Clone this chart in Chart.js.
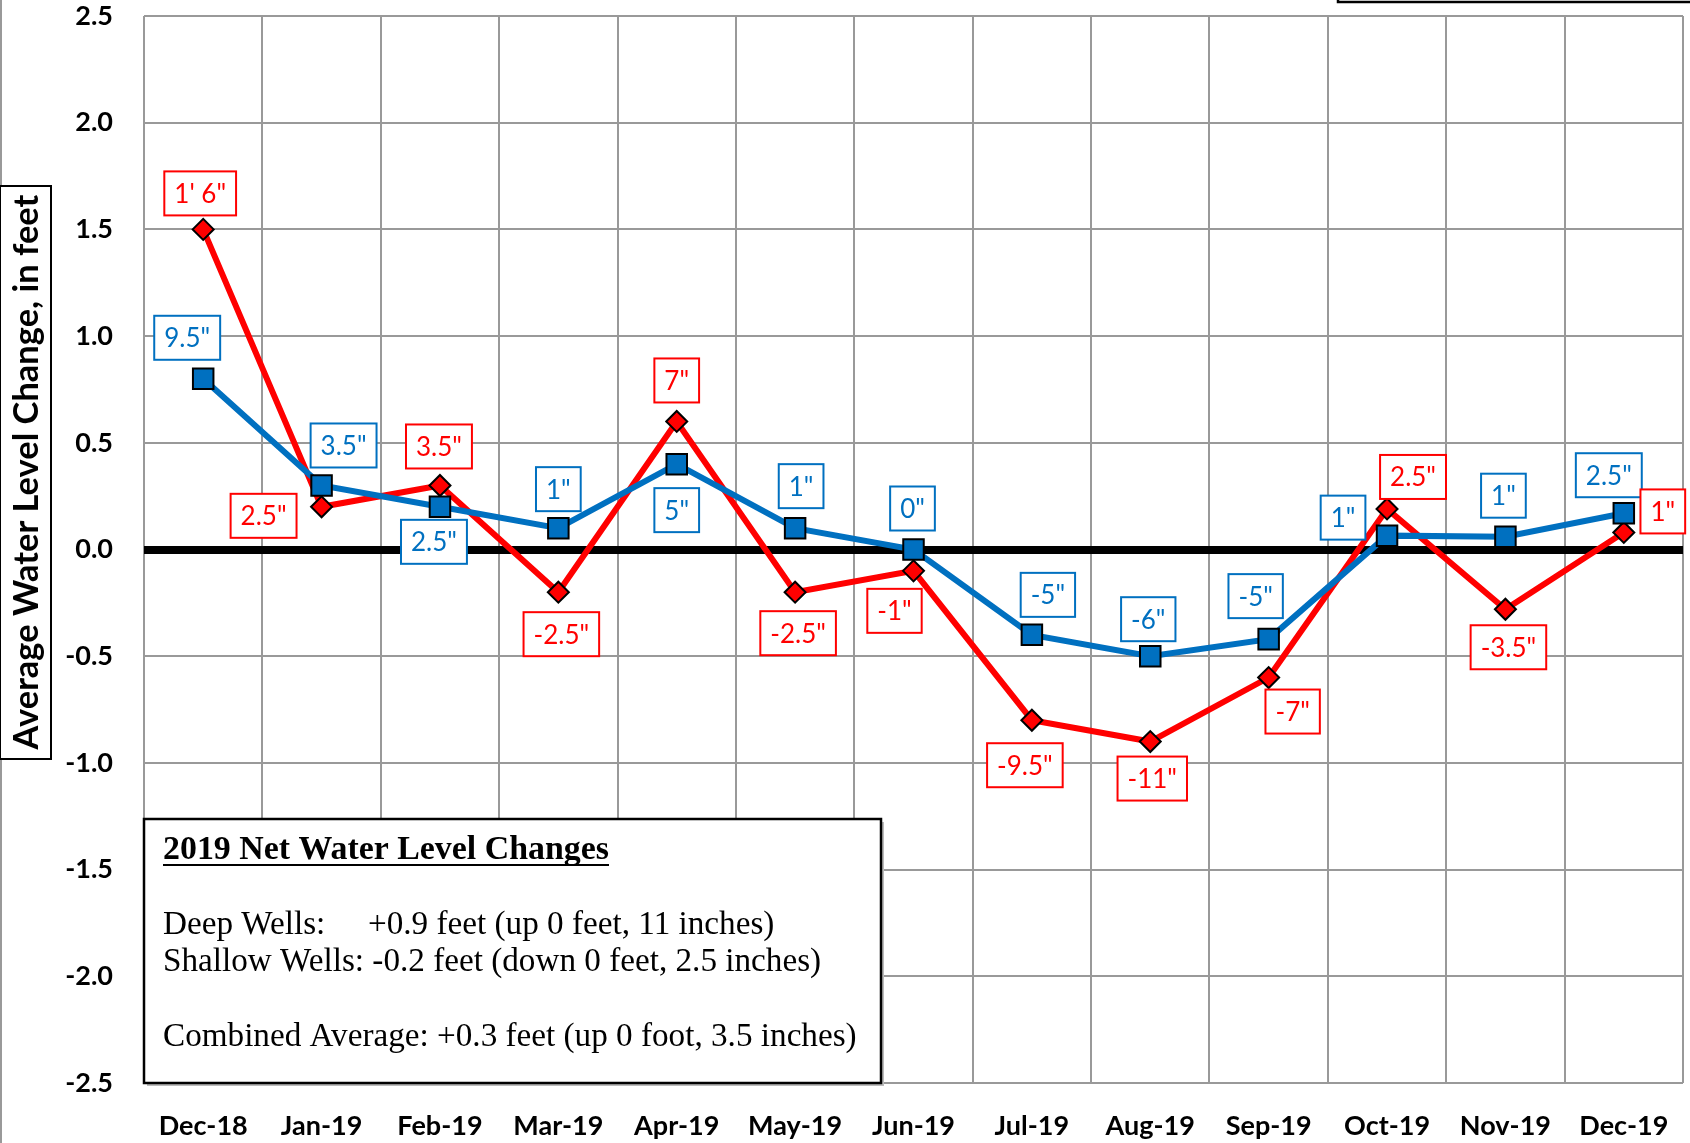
<!DOCTYPE html>
<html>
<head>
<meta charset="utf-8">
<script src="https://cdn.jsdelivr.net/npm/chart.js@4.4.1/dist/chart.umd.min.js"></script>
<style>
  html, body { margin: 0; padding: 0; background: #fff; overflow: hidden; }
  canvas { display: block; }
</style>
</head>
<body>
<canvas id="myChart" width="1690" height="1143"></canvas>
<script>
// data
const months = ['Dec-18', 'Jan-19', 'Feb-19', 'Mar-19', 'Apr-19', 'May-19', 'Jun-19',
                'Jul-19', 'Aug-19', 'Sep-19', 'Oct-19', 'Nov-19', 'Dec-19'];
const deepWells = [0.8, 0.3, 0.2, 0.1, 0.4, 0.1, 0.0, -0.4, -0.5, -0.42, 0.065, 0.06, 0.17];
const shallowWells = [1.5, 0.2, 0.3, -0.2, 0.6, -0.2, -0.1, -0.8, -0.9, -0.6, 0.19, -0.28, 0.08];
const deepLabels = ['9.5"', '3.5"', '2.5"', '1"', '5"', '1"', '0"', '-5"', '-6"', '-5"', '1"', '1"', '2.5"'];
const shallowLabels = ['1\' 6"', '2.5"', '3.5"', '-2.5"', '7"', '-2.5"', '-1"', '-9.5"', '-11"', '-7"', '2.5"', '-3.5"', '1"'];
const yTicks = [-2.5, -2.0, -1.5, -1.0, -0.5, 0.0, 0.5, 1.0, 1.5, 2.0, 2.5];

// label box placement (pixels from the point)
const deepOffsets = [[-16,-41],[22,-40],[-6,35],[0,-39],[0,46],[6,-42],[-1,-41],[16,-40],[-2,-37],[-13,-43],[-44,-18],[-2,-41],[-15,-38]];
const shallowOffsets = [[-3,-36],[-58,9],[-1,-39],[3,42],[0,-41],[3,41],[-19,40],[-7,45],[2,37],[24,34],[26,-32],[3,38],[39,-21]];

const BLUE = '#0070C0';
const RED = '#FF0000';

// draw text at a size that makes it a given width
function fitText(c, txt, x, y, weight, family, width) {
  c.font = weight + ' 30px ' + family;
  const size = 30 * width / c.measureText(txt).width;
  c.font = weight + ' ' + size.toFixed(2) + 'px ' + family;
  c.fillText(txt, x, y);
  return size;
}

const decor = {
  id: 'decor',
  beforeDraw(chart) {
    const c = chart.ctx;
    c.save();
    c.fillStyle = '#fff';
    c.fillRect(0, 0, chart.width, chart.height);
    c.restore();
  },
  afterDatasetsDraw(chart) {
    const c = chart.ctx;
    c.save();
    c.font = '26px Lato';
    c.textAlign = 'center';
    c.textBaseline = 'middle';
    const sets = [[0, deepLabels, deepOffsets, BLUE], [1, shallowLabels, shallowOffsets, RED]];
    sets.forEach(([di, labels, offs, col]) => {
      const meta = chart.getDatasetMeta(di);
      meta.data.forEach((pt, i) => {
        const cx = pt.x + offs[i][0];
        const cy = pt.y + offs[i][1];
        const w = c.measureText(labels[i]).width + 20;
        const h = 44;
        c.fillStyle = '#fff';
        c.fillRect(cx - w / 2, cy - h / 2, w, h);
        c.strokeStyle = col;
        c.lineWidth = 2;
        c.strokeRect(cx - w / 2, cy - h / 2, w, h);
        c.fillStyle = col;
        c.fillText(labels[i], cx, cy + 1);
      });
    });
    c.restore();
  },
  afterDraw(chart) {
    const c = chart.ctx;
    const a = chart.chartArea;
    c.save();

    // outer frame bits
    c.strokeStyle = '#777';
    c.lineWidth = 1.5;
    c.beginPath(); c.moveTo(1, 0); c.lineTo(1, chart.height); c.stroke();
    c.strokeStyle = '#000';
    c.lineWidth = 2.5;
    c.strokeRect(1338, -50, 400, 52);

    // y axis title in a box
    c.fillStyle = '#fff';
    c.fillRect(0, 186, 51, 573);
    c.strokeStyle = '#000';
    c.lineWidth = 2;
    c.strokeRect(0, 186, 51, 573);
    c.translate(26, 472);
    c.rotate(-Math.PI / 2);
    c.fillStyle = '#000';
    c.textAlign = 'center';
    c.textBaseline = 'middle';
    fitText(c, 'Average Water Level Change, in feet', 0, 1, 'bold', 'Lato', 555);
    c.setTransform(1, 0, 0, 1, 0, 0);

    // summary box
    const bx = a.left, by = 819, bw = 737, bh = a.bottom - 819;
    c.fillStyle = '#bbb';
    c.fillRect(bx + 3, by + 3, bw, bh);
    c.fillStyle = '#fff';
    c.fillRect(bx, by, bw, bh);
    c.strokeStyle = '#000';
    c.lineWidth = 2.5;
    c.strokeRect(bx, by, bw, bh);
    c.fillStyle = '#000';
    c.textAlign = 'left';
    c.textBaseline = 'alphabetic';
    const serif = '"Liberation Serif"';
    fitText(c, '2019 Net Water Level Changes', bx + 19, by + 40, 'bold', serif, 446);
    c.fillRect(bx + 19, by + 45, 446, 2);
    const size = fitText(c, 'Combined Average: +0.3 feet (up 0 foot, 3.5 inches)', bx + 19, by + 227, 'normal', serif, 694);
    c.font = size.toFixed(2) + 'px ' + serif;
    c.fillText('Deep Wells:', bx + 19, by + 115);
    c.fillText('+0.9 feet (up 0 feet, 11 inches)', bx + 224, by + 115);
    c.fillText('Shallow Wells: -0.2 feet (down 0 feet, 2.5 inches)', bx + 19, by + 152);
    c.restore();
  }
};

const ctx = document.getElementById('myChart');

new Chart(ctx, {
  type: 'line',
  data: {
    labels: months,
    datasets: [
      {
        label: 'Deep Wells',
        data: deepWells,
        borderColor: BLUE,
        backgroundColor: BLUE,
        borderWidth: 6,
        pointStyle: 'rect',
        pointRadius: 14.5,
        pointBorderColor: '#000',
        pointBorderWidth: 2,
        pointBackgroundColor: BLUE,
        tension: 0
      },
      {
        label: 'Shallow Wells',
        data: shallowWells,
        borderColor: RED,
        backgroundColor: RED,
        borderWidth: 6,
        pointStyle: 'rectRot',
        pointRadius: 10.5,
        pointBorderColor: '#000',
        pointBorderWidth: 2,
        pointBackgroundColor: RED,
        tension: 0
      }
    ]
  },
  options: {
    responsive: false,
    animation: false,
    devicePixelRatio: 1,
    layout: { autoPadding: false, padding: { left: 0, top: 16, right: 7, bottom: 0 } },
    plugins: { legend: { display: false }, tooltip: { enabled: false } },
    scales: {
      x: {
        offset: true,
        grid: { color: '#999', lineWidth: 2, drawTicks: false, offset: true },
        border: { display: false },
        ticks: { color: '#000', font: { family: 'Lato', weight: 'bold', size: 27 }, padding: 27, maxRotation: 0 },
        afterFit(s) { s.height = 60; s.paddingLeft = 0; s.paddingRight = 0; }
      },
      y: {
        min: -2.5,
        max: 2.5,
        afterBuildTicks(s) { s.ticks = yTicks.map(v => ({ value: v })); },
        grid: {
          drawTicks: false,
          color: c => c.tick && c.tick.value === 0 ? '#000' : '#999',
          lineWidth: c => c.tick && c.tick.value === 0 ? 8 : 2
        },
        border: { display: false },
        ticks: {
          color: '#000',
          font: { family: 'Lato', weight: 'bold', size: 27 },
          padding: 31,
          callback: v => v.toFixed(1)
        },
        afterFit(s) { s.width = 144; s.paddingTop = 0; s.paddingBottom = 0; }
      }
    }
  },
  plugins: [decor]
});
</script>
</body>
</html>
